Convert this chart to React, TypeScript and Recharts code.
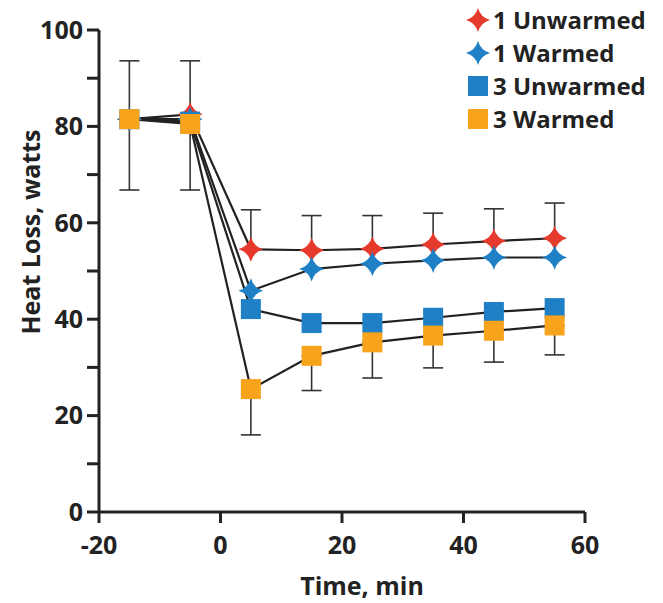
import React from 'react';
import { LineChart, Line, XAxis, YAxis, ErrorBar } from 'recharts';

// time points (min) and group means (watts)
const times = [-15, -5, 5, 15, 25, 35, 45, 55];
const unwarmed1 = [81.5, 82.5, 54.5, 54.3, 54.6, 55.5, 56.2, 56.8];
const warmed1 = [81.5, 81.5, 45.9, 50.4, 51.5, 52.2, 52.8, 52.8];
const unwarmed3 = [81.5, 81, 42.1, 39.2, 39.2, 40.3, 41.5, 42.3];
const warmed3 = [81.5, 80.5, 25.5, 32.4, 35.2, 36.6, 37.6, 38.7];
// SD drawn only one way: up for 1 Unwarmed, down for 3 Warmed
const unwarmed1Sd = [12.1, 11.1, 8.2, 7.2, 6.9, 6.5, 6.7, 7.3];
const warmed3Sd = [14.7, 13.7, 9.5, 7.2, 7.4, 6.7, 6.5, 6.1];

const xTicks = [-20, 0, 20, 40, 60];
const yTicks = [0, 10, 20, 30, 40, 50, 60, 70, 80, 90, 100];

const RED = '#e63a2d';
const BLUE = '#1f80c6';
const ORANGE = '#f8a31c';
const INK = '#222';
const FONT = '"Open Sans", sans-serif';

const rows = times.map((t, i) => ({
  t,
  u1: unwarmed1[i],
  w1: warmed1[i],
  u3: unwarmed3[i],
  w3: warmed3[i],
  u1Err: [0, unwarmed1Sd[i]],
  w3Err: [warmed3Sd[i], 0],
}));

const series = [
  { key: 'u1', name: '1 Unwarmed', color: RED, shape: 'star' },
  { key: 'w1', name: '1 Warmed', color: BLUE, shape: 'star' },
  { key: 'u3', name: '3 Unwarmed', color: BLUE, shape: 'square' },
  { key: 'w3', name: '3 Warmed', color: ORANGE, shape: 'square' },
];

function starPath(cx: number, cy: number, r: number) {
  const k = r * 0.22;
  return `M${cx},${cy - r} Q${cx + k},${cy - k} ${cx + r},${cy} Q${cx + k},${cy + k} ${cx},${cy + r} Q${cx - k},${cy + k} ${cx - r},${cy} Q${cx - k},${cy - k} ${cx},${cy - r}Z`;
}

const makeDot = (shape: string, color: string) => (props: any) => {
  const { cx, cy, index } = props;
  if (cx == null || cy == null) return <g key={index} />;
  if (shape === 'star') return <path key={index} d={starPath(cx, cy, 12.5)} fill={color} />;
  return <rect key={index} x={cx - 10} y={cy - 10} width={20} height={20} fill={color} />;
};

function Marker({ shape, color }: { shape: string; color: string }) {
  return (
    <svg width={26} height={26} style={{ display: 'block' }}>
      {shape === 'star' ? <path d={starPath(13, 13, 12)} fill={color} /> : <rect x={3} y={3} width={20} height={20} fill={color} />}
    </svg>
  );
}

const YTitle = () => (
  <text x={30} y={232} transform="rotate(-90, 30, 232)" textAnchor="middle" dominantBaseline="central"
    fontFamily={FONT} fontWeight={700} fontSize={25} fill={INK}>
    Heat Loss, watts
  </text>
);

const XTitle = () => (
  <text x={362} y={585} textAnchor="middle" dominantBaseline="central"
    fontFamily={FONT} fontWeight={700} fontSize={25} fill={INK}>
    Time, min
  </text>
);

const tickStyle = { fill: INK, fontSize: 25, fontFamily: FONT, fontWeight: 700 };

export default function App() {
  return (
    <div style={{ position: 'absolute', left: 0, top: 0, width: 663, height: 603, background: '#fff' }}>
      <LineChart width={663} height={603} data={rows} margin={{ top: 30, right: 78, bottom: 0, left: 0 }}>
        <XAxis type="number" dataKey="t" domain={[-20, 60]} ticks={xTicks} height={91}
          axisLine={{ stroke: INK, strokeWidth: 3 }} tickLine={{ stroke: INK, strokeWidth: 3 }}
          tickSize={11} tickMargin={13} tick={tickStyle} label={<XTitle />} />
        <YAxis type="number" domain={[0, 100]} ticks={yTicks} width={99} interval={0}
          tickFormatter={(v: number) => (v % 20 === 0 ? String(v) : '')}
          axisLine={{ stroke: INK, strokeWidth: 3 }} tickLine={{ stroke: INK, strokeWidth: 3 }}
          tickSize={12} tickMargin={4} tick={tickStyle} label={<YTitle />} />
        {series.map((s) => (
          <Line key={`ln-${s.key}`} dataKey={s.key} stroke={INK} strokeWidth={2.2} dot={false}
            activeDot={false} isAnimationActive={false} />
        ))}
        <Line dataKey="u1" stroke="none" dot={false} activeDot={false} isAnimationActive={false}>
          <ErrorBar dataKey="u1Err" direction="y" width={10} stroke="#333" strokeWidth={1.6} isAnimationActive={false} />
        </Line>
        <Line dataKey="w3" stroke="none" dot={false} activeDot={false} isAnimationActive={false}>
          <ErrorBar dataKey="w3Err" direction="y" width={10} stroke="#333" strokeWidth={1.6} isAnimationActive={false} />
        </Line>
        {series.map((s) => (
          <Line key={`mk-${s.key}`} dataKey={s.key} stroke="none" dot={makeDot(s.shape, s.color)}
            activeDot={false} isAnimationActive={false} />
        ))}
      </LineChart>
      <div style={{ position: 'absolute', left: 465, top: 3, fontFamily: FONT, fontWeight: 700, fontSize: 24, color: INK }}>
        {series.map((s) => (
          <div key={s.key} style={{ display: 'flex', alignItems: 'center', height: 33, whiteSpace: 'nowrap' }}>
            <Marker shape={s.shape} color={s.color} />
            <span style={{ marginLeft: 2 }}>{s.name}</span>
          </div>
        ))}
      </div>
    </div>
  );
}
